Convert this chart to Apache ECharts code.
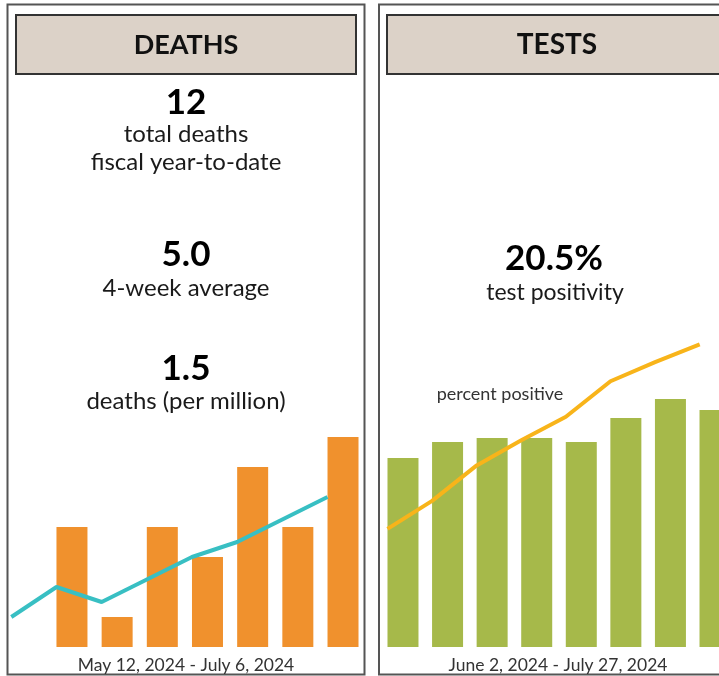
<!DOCTYPE html>
<html>
<head>
<meta charset="utf-8">
<title>Deaths and tests</title>
<script src="https://cdn.jsdelivr.net/npm/echarts@6/dist/echarts.min.js"></script>
<style>
  html, body { margin: 0; padding: 0; background: #fff; }
  #chart { width: 719px; height: 676px; }
</style>
</head>
<body>
<div id="chart"></div>
<script>
// weekly deaths, May 12 - July 6, 2024
const deathWeeks = ['May 12', 'May 19', 'May 26', 'Jun 2', 'Jun 9', 'Jun 16', 'Jun 23', 'Jun 30'];
const deathCounts = [0, 4, 1, 4, 3, 6, 4, 7];
const deathAvg = [1.0, 2.0, 1.5, 2.25, 3.0, 3.5, 4.25, 5.0];

// weekly tests, June 2 - July 27, 2024
const testWeeks = ['Jun 2', 'Jun 9', 'Jun 16', 'Jun 23', 'Jun 30', 'Jul 7', 'Jul 14', 'Jul 21'];
const testCounts = [1890, 2050, 2090, 2090, 2050, 2290, 2480, 2370];
const testPositive = [8.0, 9.9, 12.3, 14.0, 15.6, 18.0, 19.3, 20.5];

const FONT = 'Lato, "Open Sans", sans-serif';
const chart = echarts.init(document.getElementById('chart'), null, { renderer: 'canvas' });

function label(x, y, text, size, bold, color) {
  return {
    type: 'text', x: x, y: y, z: 10,
    style: {
      text: text, fill: color || '#1a1a1a', font: (bold ? 'bold ' : '') + size + 'px ' + FONT,
      textAlign: 'center', textVerticalAlign: 'middle'
    }
  };
}

function panel(x, y, w, h) {
  return { type: 'rect', shape: { x: x, y: y, width: w, height: h }, z: -1,
    style: { fill: '#fff', stroke: '#555', lineWidth: 2 } };
}

function header(x, y, w, h) {
  return { type: 'rect', shape: { x: x, y: y, width: w, height: h }, z: 1,
    style: { fill: '#dcd2c8', stroke: '#333', lineWidth: 2 } };
}

const hiddenX = (grid, data, gap) => ({
  type: 'category', gridIndex: grid, data: data, boundaryGap: gap, show: false
});
const hiddenY = (grid, max) => ({
  type: 'value', gridIndex: grid, min: 0, max: max, show: false, splitLine: { show: false }
});

// grids may run past the right edge (the tests panel is cut off)
const box = (left, top, width, height) => ({
  left: left, top: top, width: width, height: height, outerBoundsMode: 'none'
});

const option = {
  animation: false,
  grid: [
    box(4.2, 437, 361.4, 210),
    box(11.3, 437, 316.2, 210),
    box(380.7, 337, 356.6, 310),
    box(387.5, 337, 312.2, 310)
  ],
  xAxis: [
    hiddenX(0, deathWeeks, true),
    hiddenX(1, deathWeeks, false),
    hiddenX(2, testWeeks, true),
    hiddenX(3, testWeeks, false)
  ],
  yAxis: [hiddenY(0, 7), hiddenY(1, 7), hiddenY(2, 3100), hiddenY(3, 21)],
  series: [
    {
      type: 'bar', xAxisIndex: 0, yAxisIndex: 0, data: deathCounts, barWidth: 31, clip: false,
      itemStyle: { color: '#f0912d' }
    },
    {
      type: 'line', xAxisIndex: 1, yAxisIndex: 1, data: deathAvg, symbol: 'none', z: 3,
      lineStyle: { color: '#38bfc3', width: 4 }
    },
    {
      type: 'bar', xAxisIndex: 2, yAxisIndex: 2, data: testCounts, barWidth: 31, clip: false,
      itemStyle: { color: '#a6b94a' }
    },
    {
      type: 'line', xAxisIndex: 3, yAxisIndex: 3, data: testPositive, symbol: 'none', z: 3,
      lineStyle: { color: '#f8b41a', width: 4 }
    }
  ],
  graphic: [
    panel(7.5, 4.5, 357, 670),
    panel(379, 4.5, 360, 670),
    header(16, 15, 340, 59),
    header(387, 15, 340, 59),
    label(186, 45, 'DEATHS', 27, true, '#111'),
    label(557, 45, 'TESTS', 28, true, '#111'),
    label(186, 103, '12', 35, true, '#000'),
    label(186, 134, 'total deaths', 24, false),
    label(186, 162, 'fiscal year-to-date', 24, false),
    label(186, 255, '5.0', 35, true, '#000'),
    label(186, 288, '4-week average', 24, false),
    label(186, 369, '1.5', 35, true, '#000'),
    label(186, 401, 'deaths (per million)', 24, false),
    label(554, 259, '20.5%', 35, true, '#000'),
    label(555, 293, 'test positivity', 23, false),
    label(500, 394, 'percent positive', 18, false, '#333'),
    label(186, 665, 'May 12, 2024 - July 6, 2024', 17.5, false, '#333'),
    label(558, 665, 'June 2, 2024 - July 27, 2024', 17.5, false, '#333')
  ]
};

chart.setOption(option);
</script>
</body>
</html>
